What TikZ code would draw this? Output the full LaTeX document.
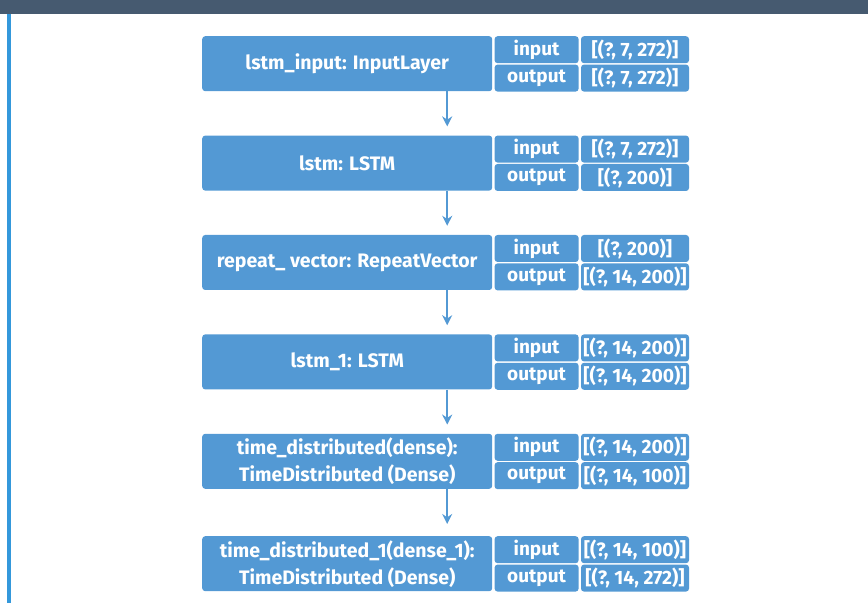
\documentclass[tikz,border=0pt]{standalone}
\usepackage{fontspec}
\setmainfont{Fira Sans}
\usetikzlibrary{arrows.meta, positioning}

\definecolor{layerblue}{RGB}{83,153,212}
\definecolor{barslate}{RGB}{70,90,112}
\definecolor{railblue}{RGB}{52,152,219}

\begin{document}
\begin{tikzpicture}[
    x=1pt, y=1pt,
    node distance=44pt,
    >={Stealth[length=10pt, width=10pt]},
    layer/.style={rectangle, fill=layerblue, rounded corners=3pt, minimum width=290pt, minimum height=55pt, inner sep=0pt, align=center, text=white, font=\bfseries\fontsize{19.5}{27}\selectfont},
    port/.style={rectangle, fill=layerblue, rounded corners=3pt, minimum width=84pt, minimum height=27pt, inner sep=0pt, text=white, font=\bfseries\fontsize{19}{20}\selectfont},
    dims/.style={port, minimum width=108pt, font=\bfseries\fontsize{19.3}{20}\selectfont},
    flow/.style={->, draw=layerblue, line width=2pt}
  ]
    \useasboundingbox (0,0) rectangle (868,603);
    \fill[barslate] (0,589) rectangle (868,603);
    \fill[railblue] (7,0) rectangle (11,589);

    \node[layer, anchor=north west] (inlayer) at (202,567) {lstm\_input: InputLayer};
    \node[layer, below=of inlayer] (lstm) {lstm: LSTM};
    \node[layer, below=of lstm] (repvec) {repeat\_ vector: RepeatVector};
    \node[layer, below=of repvec] (lstmone) {lstm\_1: LSTM};
    \node[layer, below=of lstmone] (tdist) {time\_distributed(dense):\\TimeDistributed (Dense)};
    \node[layer, below=47pt of tdist] (tdistone) {time\_distributed\_1(dense\_1):\\TimeDistributed (Dense)};

    % input / output shapes
    \node[port, anchor=north west] (inlayer-in) at ([xshift=2pt]inlayer.north east) {input};
    \node[port, below=1pt of inlayer-in] (inlayer-out) {output};
    \node[dims, right=2pt of inlayer-in] {[(?, 7, 272)]};
    \node[dims, right=2pt of inlayer-out] {[(?, 7, 272)]};

    \node[port, anchor=north west] (lstm-in) at ([xshift=2pt]lstm.north east) {input};
    \node[port, below=1pt of lstm-in] (lstm-out) {output};
    \node[dims, right=2pt of lstm-in] {[(?, 7, 272)]};
    \node[dims, right=2pt of lstm-out] {[(?, 200)]};

    \node[port, anchor=north west] (repvec-in) at ([xshift=2pt]repvec.north east) {input};
    \node[port, below=1pt of repvec-in] (repvec-out) {output};
    \node[dims, right=2pt of repvec-in] {[(?, 200)]};
    \node[dims, right=2pt of repvec-out] {[(?, 14, 200)]};

    \node[port, anchor=north west] (lstmone-in) at ([xshift=2pt]lstmone.north east) {input};
    \node[port, below=1pt of lstmone-in] (lstmone-out) {output};
    \node[dims, right=2pt of lstmone-in] {[(?, 14, 200)]};
    \node[dims, right=2pt of lstmone-out] {[(?, 14, 200)]};

    \node[port, anchor=north west] (tdist-in) at ([xshift=2pt]tdist.north east) {input};
    \node[port, below=1pt of tdist-in] (tdist-out) {output};
    \node[dims, right=2pt of tdist-in] {[(?, 14, 200)]};
    \node[dims, right=2pt of tdist-out] {[(?, 14, 100)]};

    \node[port, anchor=north west] (tdistone-in) at ([xshift=2pt]tdistone.north east) {input};
    \node[port, below=1pt of tdistone-in] (tdistone-out) {output};
    \node[dims, right=2pt of tdistone-in] {[(?, 14, 100)]};
    \node[dims, right=2pt of tdistone-out] {[(?, 14, 272)]};

    \draw[flow] ([xshift=100pt]inlayer.south) -- ([xshift=100pt, yshift=9pt]lstm.north);
    \draw[flow] ([xshift=100pt]lstm.south) -- ([xshift=100pt, yshift=9pt]repvec.north);
    \draw[flow] ([xshift=100pt]repvec.south) -- ([xshift=100pt, yshift=9pt]lstmone.north);
    \draw[flow] ([xshift=100pt]lstmone.south) -- ([xshift=100pt, yshift=9pt]tdist.north);
    \draw[flow] ([xshift=100pt]tdist.south) -- ([xshift=100pt, yshift=12pt]tdistone.north);
  \end{tikzpicture}
\end{document}
